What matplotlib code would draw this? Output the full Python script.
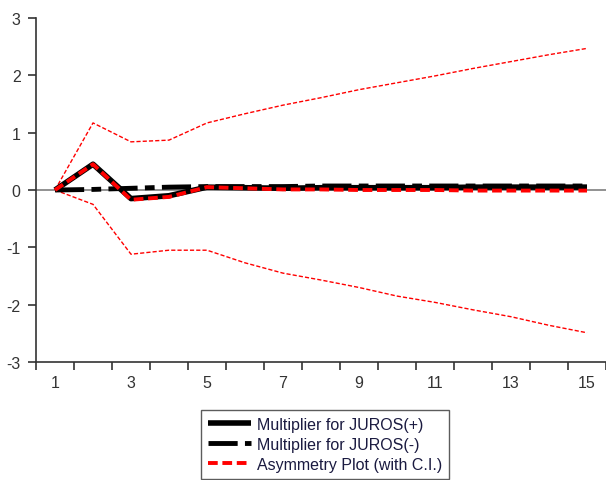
import matplotlib
matplotlib.use("Agg")
import matplotlib.pyplot as plt
import numpy as np

plt.rcParams['font.family'] = ['Liberation Sans', 'DejaVu Sans']

periods = np.arange(1, 16)

# cumulative dynamic multipliers
mult_pos = [0.0, 0.45, -0.15, -0.10, 0.05, 0.04, 0.03, 0.04, 0.04, 0.04, 0.04, 0.05, 0.05, 0.05, 0.05]
mult_neg = [0.0, 0.01, 0.03, 0.05, 0.06, 0.06, 0.06, 0.07, 0.07, 0.07, 0.07, 0.07, 0.07, 0.07, 0.07]
asym = [0.0, 0.45, -0.17, -0.12, 0.05, 0.03, 0.01, 0.01, 0.0, 0.0, 0.0, -0.01, -0.01, -0.01, -0.01]
ci_upper = [0.0, 1.17, 0.84, 0.87, 1.17, 1.33, 1.48, 1.61, 1.75, 1.87, 1.99, 2.12, 2.24, 2.36, 2.47]
ci_lower = [0.0, -0.25, -1.12, -1.05, -1.05, -1.27, -1.45, -1.57, -1.70, -1.85, -1.96, -2.09, -2.21, -2.36, -2.49]

ytick_vals = [-3, -2, -1, 0, 1, 2, 3]
xtick_labels = [1, 3, 5, 7, 9, 11, 13, 15]

fig = plt.figure(figsize=(6.06, 4.81), dpi=100)
ax = fig.add_axes([0.0594, 0.2453, 0.9406, 0.7152])

axis_col = '#333333'
ax.axhline(0, color='#7f7f7f', lw=1.2, zorder=1)

l1, = ax.plot(periods, mult_pos, color='black', lw=4, solid_capstyle='butt', zorder=3,
              label='Multiplier for JUROS(+)')
l2, = ax.plot(periods, mult_neg, color='black', lw=3.5, dashes=(6, 1.5, 2, 1.5), zorder=3,
              label='Multiplier for JUROS(-)')
l3, = ax.plot(periods, asym, color='#ff0000', lw=2.8, dashes=(2.5, 1.2), zorder=4,
              label='Asymmetry Plot (with C.I.)')
ax.plot(periods, ci_upper, color='#ff0000', lw=1.0, dashes=(3, 1.5), zorder=2)
ax.plot(periods, ci_lower, color='#ff0000', lw=1.0, dashes=(3, 1.5), zorder=2)

ax.set_xlim(0.5, 15.5)
ax.set_ylim(-3, 3)
ax.set_yticks(ytick_vals)
ax.set_yticklabels([str(v) for v in ytick_vals])
ax.set_xticks(xtick_labels)
ax.set_xticklabels([str(v) for v in xtick_labels])
ax.set_xticks(np.arange(0.5, 15.6, 1.0), minor=True)
ax.tick_params(axis='x', which='major', length=0, pad=9, labelsize=11.5, colors=axis_col)
ax.tick_params(axis='x', which='minor', length=6, width=1.2, color=axis_col, direction='out')
ax.tick_params(axis='y', length=6, width=1.2, labelsize=11.5, colors=axis_col, direction='out', pad=5)

for side in ['top', 'right']:
    ax.spines[side].set_visible(False)
for side in ['left', 'bottom']:
    ax.spines[side].set_color(axis_col)
    ax.spines[side].set_linewidth(1.2)

leg = fig.legend(handles=[l1, l2, l3], loc='upper center', bbox_to_anchor=(0.536, 0.146),
                 frameon=True, fancybox=False, edgecolor='#333333', fontsize=11.5,
                 handlelength=2.7, handletextpad=0.35, borderpad=0.45, labelspacing=0.3,
                 borderaxespad=0)
leg.get_frame().set_linewidth(1.0)
for t in leg.get_texts():
    t.set_color('#1a1a40')

fig.savefig('out.png', dpi=100)
